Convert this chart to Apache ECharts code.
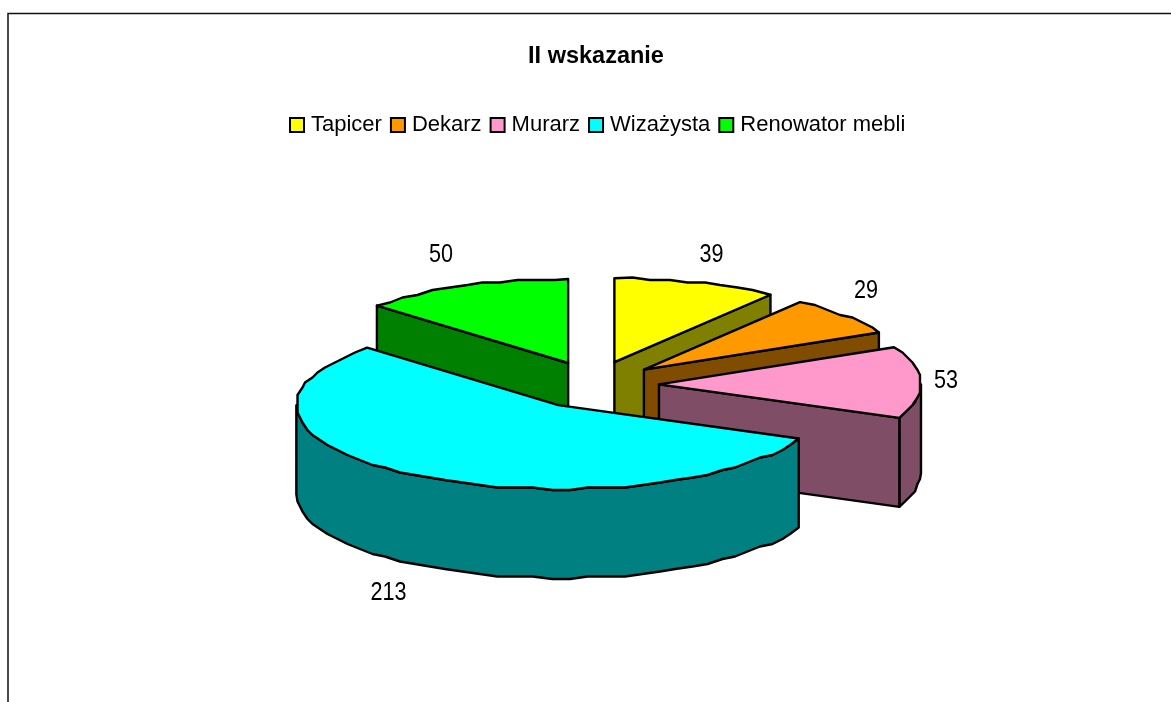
<!DOCTYPE html>
<html><head><meta charset="utf-8">
<style>html,body{margin:0;padding:0;background:#fff}#c{width:1171px;height:702px}</style>
<script src="https://cdn.jsdelivr.net/npm/echarts@6/dist/echarts.min.js"></script>
</head><body><div id="c"></div>
<script>
const titleText = 'II wskazanie';
const categories = ['Tapicer', 'Dekarz', 'Murarz', 'Wizażysta', 'Renowator mebli'];
const values = [39, 29, 53, 213, 50];
const topColors = ['#FFFF00', '#FF9900', '#FF99CC', '#00FFFF', '#00FF00'];
const sideColors = ['#808000', '#804D00', '#804D66', '#008080', '#008000'];
const drawOrder = [2, 3, 4, 5, 1];
const labelNudge = [[15, -28], [21, -25], [25, -2], [-26, 118], [-23, -31]];

const FONT = '"Liberation Sans",Arial,sans-serif';
const CX = 594, CY = 385, RX = 262, RY = 84, DEPTH = 89, EXPLODE_X = 65, EXPLODE_Y = 24, STEP = 4, SNAP = 2.5;
const total = values.reduce((a, b) => a + b, 0);
const rad = d => d * Math.PI / 180;

function renderSlice(index, api) {
  let before = 0;
  for (let i = 0; i < index; i++) before += values[i];
  const start = before / total * 360;
  const end = (before + api.value(0)) / total * 360;
  const mid = (start + end) / 2;
  const ax = CX + EXPLODE_X * Math.sin(rad(mid));
  const ay = CY - EXPLODE_Y * Math.cos(rad(mid));
  const rim = t => [ax + RX * Math.sin(rad(t)), ay - RY * Math.cos(rad(t))];
  const down = p => [p[0], p[1] + DEPTH];
  const snap = p => [Math.round(p[0] / SNAP) * SNAP, Math.round(p[1] / SNAP) * SNAP];
  const sweep = (a, b) => {
    const out = [rim(a)];
    for (let t = a + STEP; t < b - STEP / 2; t += STEP) out.push(snap(rim(t)));
    out.push(rim(b));
    return out;
  };
  const lineStyle = fill => ({ fill, stroke: '#000', lineWidth: 2.4, lineJoin: 'round' });
  const poly = (points, fill) => ({ type: 'polygon', shape: { points }, style: lineStyle(fill) });
  const children = [];
  const side = sideColors[index];
  const fStart = Math.max(start, 90), fEnd = Math.min(end, 270);
  if (fEnd > fStart) {
    const arc = sweep(fStart, fEnd);
    children.push(poly(arc.concat(arc.map(down).reverse()), side));
  }
  const apex = [ax, ay];
  const radial = t => {
    const p = rim(t);
    children.push(poly([apex, p, down(p), down(apex)], side));
  };
  if (Math.sin(rad(end)) > 1e-6) radial(end);
  if (Math.sin(rad(start)) < -1e-6) radial(start);
  children.push(poly([apex].concat(sweep(start, end)), topColors[index]));
  const lp = rim(mid);
  children.push({
    type: 'text',
    x: lp[0] + labelNudge[index][0], y: lp[1] + labelNudge[index][1], scaleX: 0.83,
    style: {
      x: 0, y: 0,
      text: String(api.value(0)), fill: '#000', font: '26px ' + FONT,
      align: 'center', verticalAlign: 'middle'
    }
  });
  return { type: 'group', children };
}

const chart = echarts.init(document.getElementById('c'), null, { renderer: 'canvas' });
chart.setOption({
  animation: false,
  backgroundColor: '#fff',
  title: {
    text: titleText, left: 591, top: 40, textAlign: 'center',
    textStyle: { fontFamily: FONT, fontSize: 23.5, fontWeight: 'bold', color: '#000' }
  },
  legend: {
    left: 289, top: 114, padding: 0, itemWidth: 14, itemHeight: 14, itemGap: 8,
    icon: 'rect',
    data: categories,
    textStyle: { fontFamily: FONT, fontSize: 22, color: '#000', padding: [0, 0, 0, 2] }
  },
  graphic: [{
    type: 'polyline', silent: true,
    shape: { points: [[8, 703], [8, 13.5], [1172, 13.5]] },
    style: { fill: null, stroke: '#111', lineWidth: 1.5 }
  }],
  series: categories.map((name, i) => ({
    type: 'custom', name, coordinateSystem: 'none', z: drawOrder[i], silent: true,
    itemStyle: { color: topColors[i], borderColor: '#000', borderWidth: 2 },
    renderItem: (params, api) => renderSlice(i, api),
    data: [[values[i]]]
  }))
});
</script></body></html>
